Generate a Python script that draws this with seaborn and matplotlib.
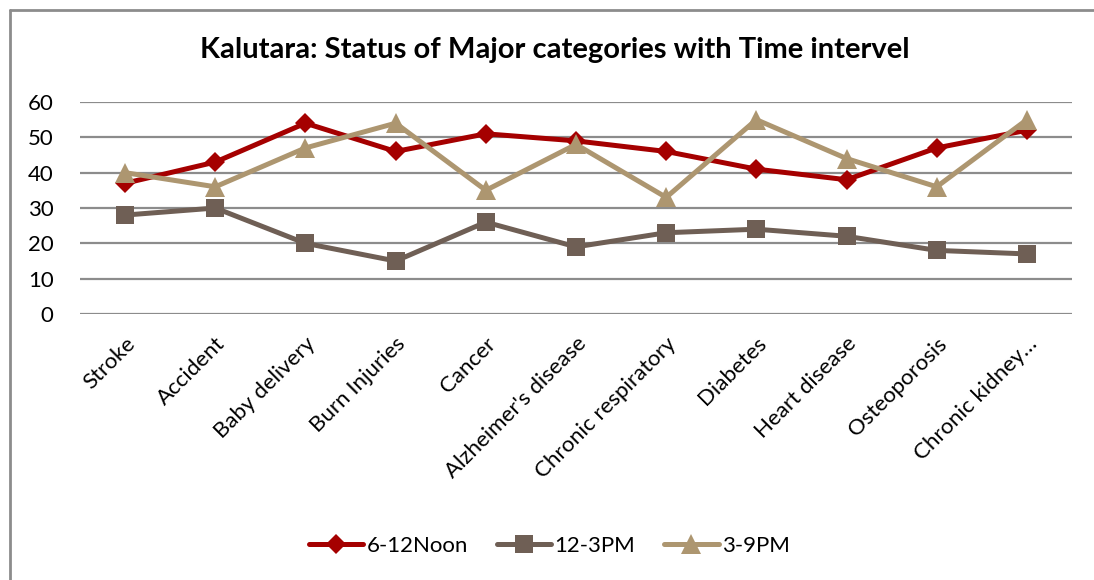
import pandas as pd
import matplotlib.pyplot as plt
import seaborn as sns

# data
categories = ["Stroke", "Accident", "Baby delivery", "Burn Injuries", "Cancer",
              "Alzheimer's disease", "Chronic respiratory", "Diabetes",
              "Heart disease", "Osteoporosis", "Chronic kidney\u2026"]
noon = [37, 43, 54, 46, 51, 49, 46, 41, 38, 47, 52]
pm12_3 = [28, 30, 20, 15, 26, 19, 23, 24, 22, 18, 17]
pm3_9 = [40, 36, 47, 54, 35, 48, 33, 55, 44, 36, 55]
series = ["6-12Noon", "12-3PM", "3-9PM"]

df = pd.DataFrame({
    "category": categories * 3,
    "value": noon + pm12_3 + pm3_9,
    "interval": [series[0]] * 11 + [series[1]] * 11 + [series[2]] * 11,
})
df["pos"] = list(range(11)) * 3

sns.set_style("white")
plt.rcParams['font.family'] = ['Lato', 'DejaVu Sans']
plt.rcParams['text.color'] = 'black'
plt.rcParams['xtick.color'] = 'black'
plt.rcParams['ytick.color'] = 'black'

fig = plt.figure(figsize=(10.94, 5.8), dpi=100)
ax = fig.add_axes([80 / 1094, 266 / 580, 992 / 1094, 212 / 580])

colors = {"6-12Noon": "#A50000", "12-3PM": "#6F5F55", "3-9PM": "#AD9670"}
markers = {"6-12Noon": "D", "12-3PM": "s", "3-9PM": "^"}
sizes = {"6-12Noon": 10.5, "12-3PM": 13, "3-9PM": 14}

for s in series:
    sub = df[df["interval"] == s]
    sns.lineplot(data=sub, x="pos", y="value", ax=ax, color=colors[s],
                 marker=markers[s], markersize=sizes[s], markeredgewidth=0,
                 linewidth=3.6, label=s, clip_on=False, zorder=3)

ax.set_xlim(-0.5, 10.5)
ax.set_ylim(0, 60)
ax.set_yticks(range(0, 61, 10))
ax.set_xticks(range(11))
ax.set_xticklabels(categories, rotation=45, ha="right", rotation_mode="anchor",
                   fontsize=16, color="black")
ax.tick_params(axis="y", labelsize=16, length=0, pad=19, labelcolor="black")
ax.tick_params(axis="x", length=0, pad=14)
ax.grid(axis="y", color="#8C8C8C", linewidth=1.6)
ax.grid(axis="x", visible=False)
ax.set_axisbelow(True)
for sp in ax.spines.values():
    sp.set_visible(False)
ax.set_xlabel("")
ax.set_ylabel("")

fig.text(555 / 1094, 1 - 50 / 580, "Kalutara: Status of Major categories with Time intervel",
         ha="center", va="center", fontsize=21, fontweight="bold", color="black")

ax.legend(loc="center", bbox_to_anchor=(0.473, -232 / 212), frameon=False,
          ncol=3, fontsize=16, handlelength=2.45, columnspacing=1.3, handletextpad=0.15)

# outer chart frame
fig.add_artist(plt.Line2D([10 / 1094, 10 / 1094], [0, 1 - 10 / 580], color="#8C8C8C", linewidth=2))
fig.add_artist(plt.Line2D([10 / 1094, 1], [1 - 10 / 580, 1 - 10 / 580], color="#8C8C8C", linewidth=2))

fig.savefig("out.png", dpi=100)
